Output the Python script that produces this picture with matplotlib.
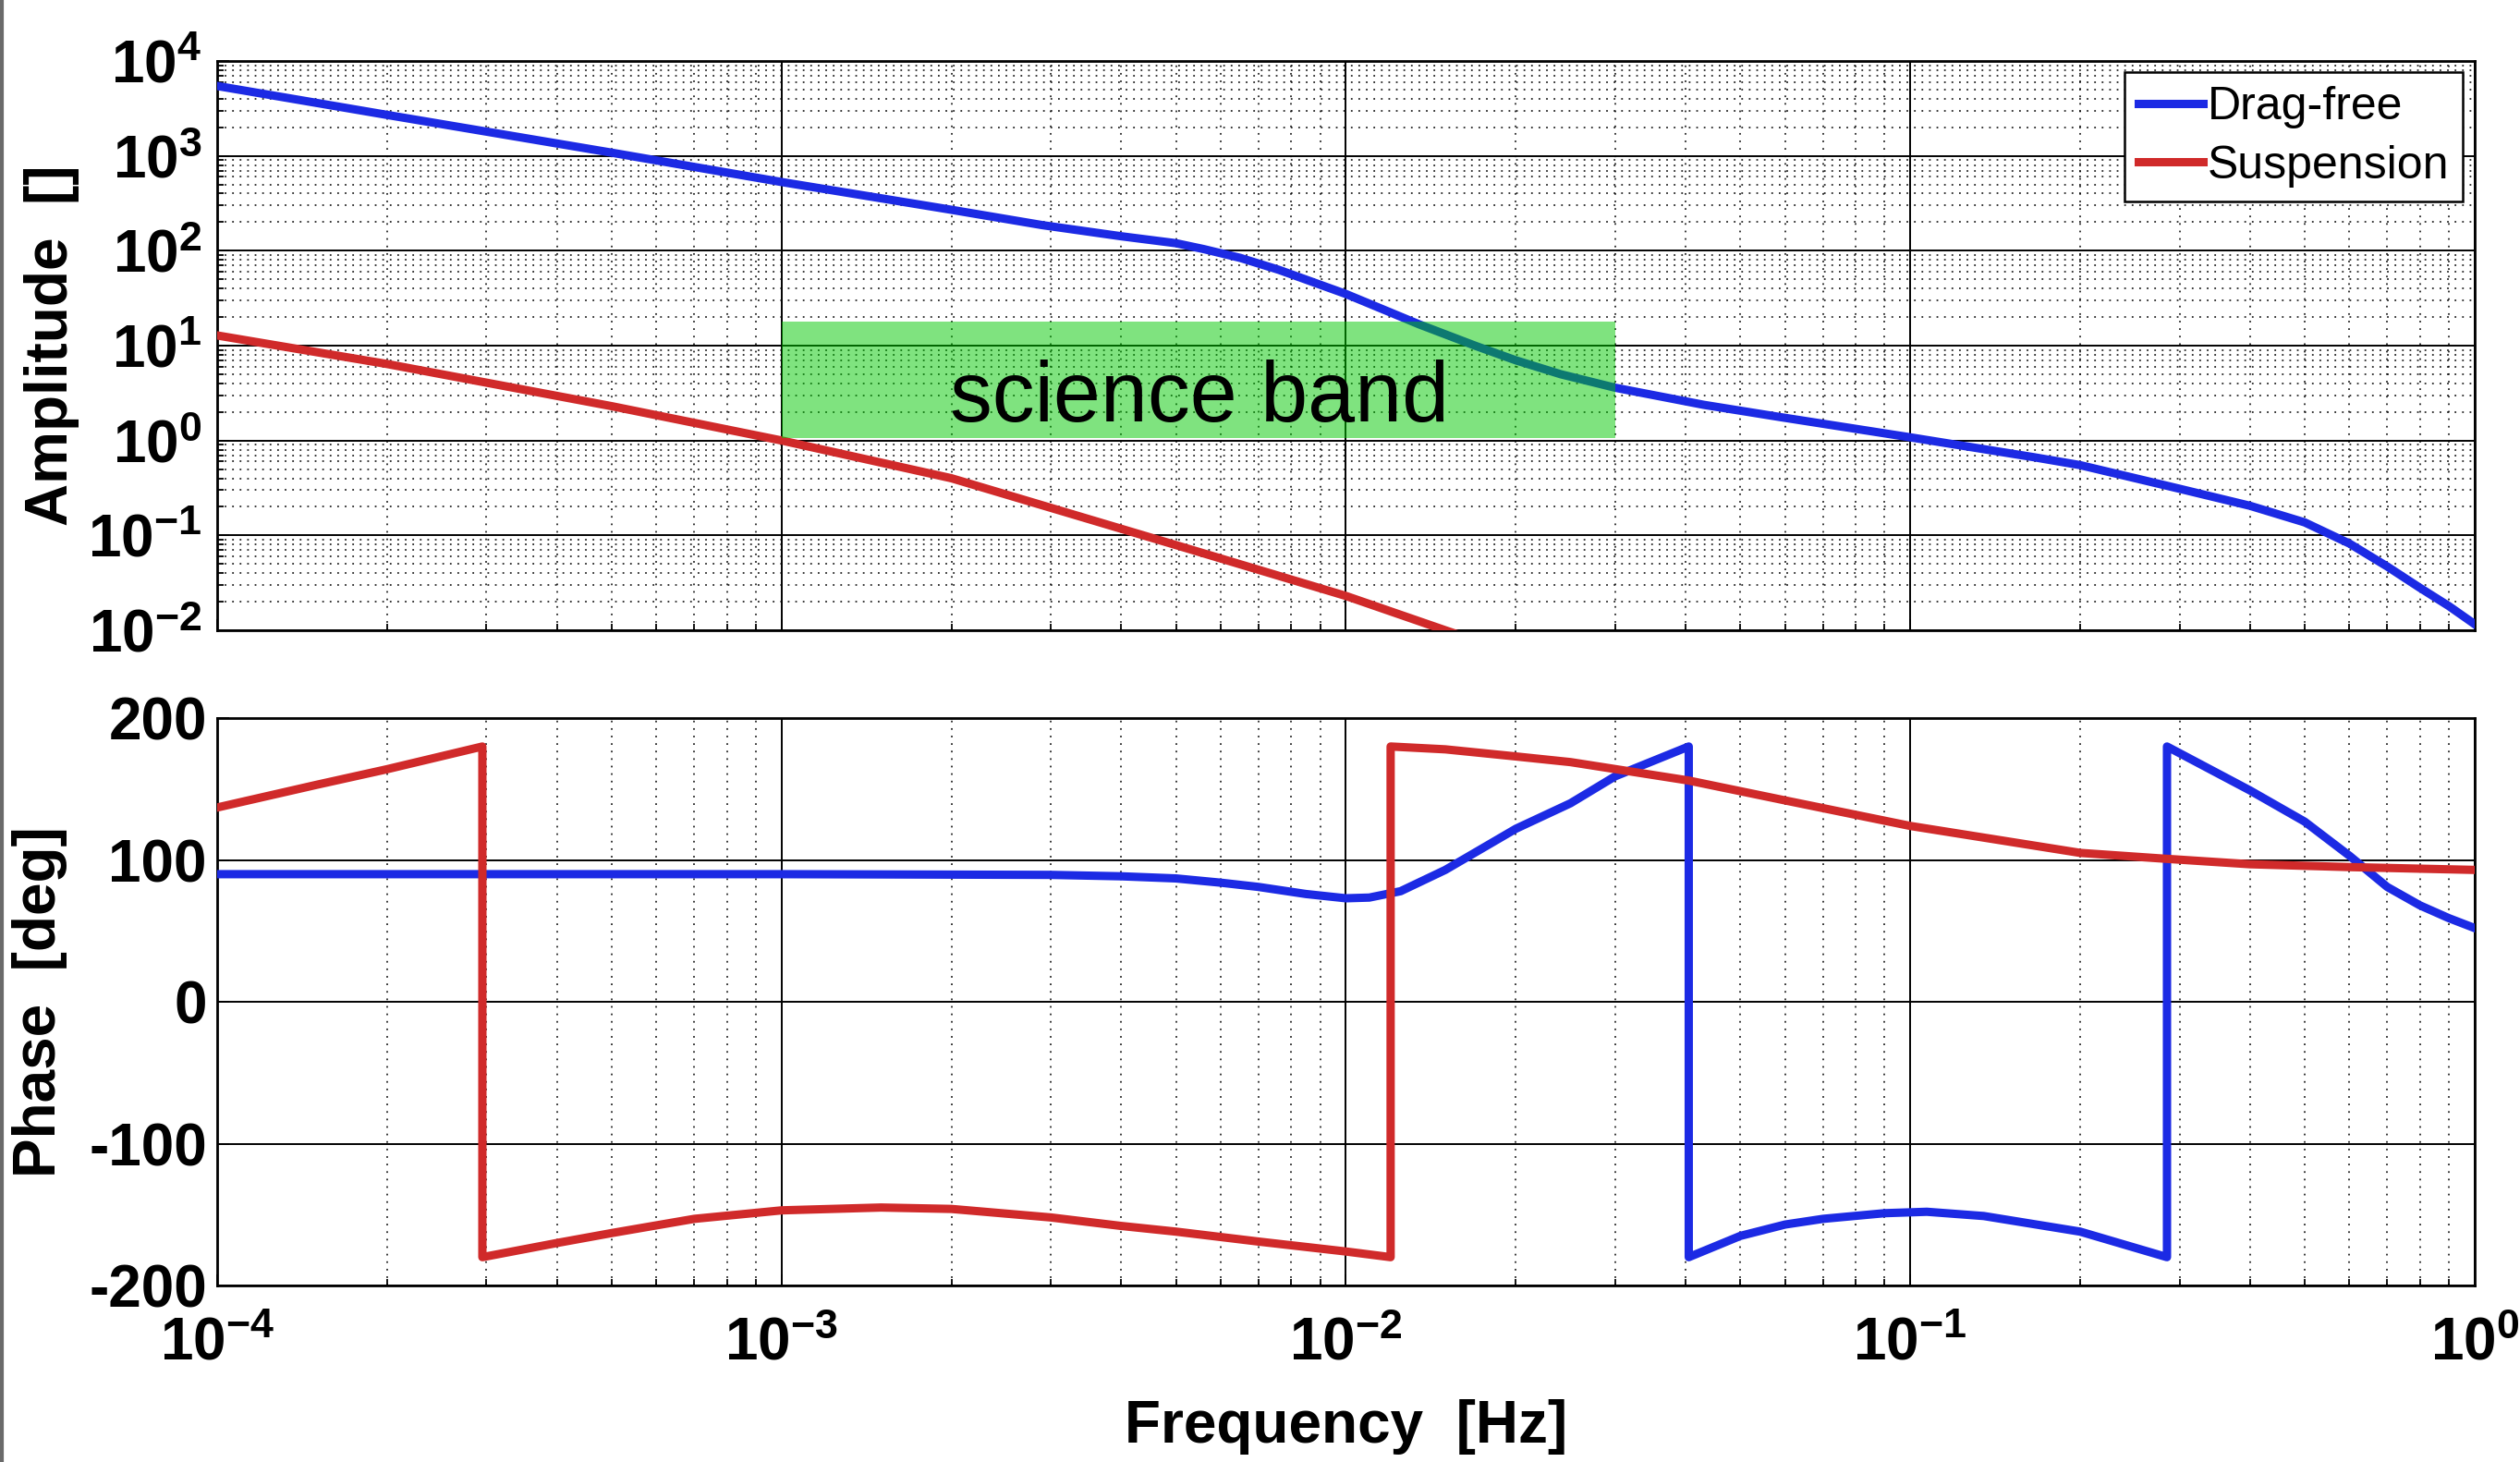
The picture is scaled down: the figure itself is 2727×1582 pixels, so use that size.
import matplotlib
matplotlib.use('Agg')
import matplotlib.pyplot as plt
from matplotlib.ticker import FixedLocator, LogLocator, NullLocator, NullFormatter
from matplotlib.lines import Line2D

plt.rcParams['font.family'] = ['Liberation Sans', 'DejaVu Sans']
plt.rcParams['mathtext.fontset'] = 'custom'
plt.rcParams['mathtext.rm'] = 'Liberation Sans:bold'
plt.rcParams['mathtext.it'] = 'Liberation Sans:bold'
plt.rcParams['mathtext.bf'] = 'Liberation Sans:bold'
plt.rcParams['mathtext.sf'] = 'Liberation Sans:bold'

# amplitude
f_amp_drag = [1e-4, 2e-4, 5e-4, 1e-3, 2e-3, 2.9e-3, 4e-3, 5e-3, 5.6e-3, 6.5e-3, 7.6e-3,
              1e-2, 1.35e-2, 1.7e-2, 2e-2, 2.4e-2, 3e-2, 4.3e-2, 5.9e-2, 0.1, 0.166,
              0.2, 0.3, 0.4, 0.5, 0.6, 0.7, 0.8, 0.9, 1.0]
amp_drag = [5450, 2700, 1080, 530, 270, 186, 142, 120, 104, 84, 63,
            35, 16.7, 9.9, 7.0, 5.0, 3.6, 2.38, 1.76, 1.08, 0.665,
            0.55, 0.31, 0.205, 0.137, 0.082, 0.047, 0.028, 0.018, 0.0116]

f_amp_susp = [1e-4, 2e-4, 5e-4, 1e-3, 2e-3, 5e-3, 1e-2, 1.5e-2, 2e-2]
amp_susp = [12.8, 6.4, 2.3, 1.0, 0.40, 0.079, 0.023, 0.010, 0.0056]

# phase (wraps kept as repeated frequencies)
f_ph_drag = [1e-4, 1e-3, 3e-3, 4e-3, 5e-3, 6e-3, 7e-3, 8.5e-3, 1e-2, 1.1e-2, 1.25e-2,
             1.5e-2, 2e-2, 2.5e-2, 3e-2, 4.05e-2, 4.05e-2, 5e-2, 6e-2, 7e-2, 9e-2,
             0.107, 0.135, 0.2, 0.285, 0.285, 0.4, 0.5, 0.6, 0.7, 0.8, 0.9, 1.0]
ph_drag = [90, 90, 89.5, 88.5, 87, 84, 81, 76, 73, 73.5, 78,
           93, 122, 140, 159, 180, -180, -165, -157, -153, -149,
           -148, -151, -162, -180, 180, 149, 127, 103, 81, 68, 59, 52]

f_ph_susp = [1e-4, 1.5e-4, 2e-4, 2.95e-4, 2.95e-4, 4e-4, 5e-4, 7e-4, 1e-3, 1.5e-3,
             2e-3, 3e-3, 4e-3, 5e-3, 7e-3, 1e-2, 1.2e-2, 1.2e-2, 1.5e-2, 2e-2,
             2.5e-2, 4.05e-2, 6e-2, 0.1, 0.2, 0.28, 0.4, 0.6, 1.0]
ph_susp = [137, 153, 164, 180, -180, -170, -163, -153, -147, -145,
           -146, -152, -158, -162, -169, -176, -180, 180, 178, 173,
           169, 156, 142, 124, 105, 101, 97, 95, 93]

xticks = [1e-4, 1e-3, 1e-2, 1e-1, 1e0]
xtick_labels = [r'$10^{-4}$', r'$10^{-3}$', r'$10^{-2}$', r'$10^{-1}$', r'$10^{0}$']
amp_ticks = [1e-2, 1e-1, 1e0, 1e1, 1e2, 1e3, 1e4]
amp_tick_labels = [r'$10^{-2}$', r'$10^{-1}$', r'$10^{0}$', r'$10^{1}$',
                   r'$10^{2}$', r'$10^{3}$', r'$10^{4}$']
ph_ticks = [-200, -100, 0, 100, 200]
ph_tick_labels = ['-200', '-100', '0', '100', '200']

band = (1e-3, 3e-2, 1.05, 18.0)

c_drag = '#1c2ae4'
c_susp = '#d02a2a'

fig = plt.figure(figsize=(27.27, 15.82), dpi=100)
ax1 = fig.add_axes([0.0862, 0.5689, 0.8958, 0.3894])
ax2 = fig.add_axes([0.0862, 0.1207, 0.8958, 0.3881])

# ----- amplitude -----
ax1.loglog(f_amp_drag, amp_drag, color=c_drag, lw=6.5, label='Drag-free', zorder=3)
ax1.loglog(f_amp_susp, amp_susp, color=c_susp, lw=6.5, label='Suspension', zorder=3)
ax1.fill_between([band[0], band[1]], band[2], band[3], color='#00c800', alpha=0.5,
                 lw=0, zorder=4)
ax1.text(5.5e-3, 1.6, 'science band', fontsize=66, ha='center', va='baseline',
         fontweight='light', zorder=5)
ax1.set_xlim(1e-4, 1)
ax1.set_ylim(1e-2, 1e4)
ax1.yaxis.set_major_locator(FixedLocator(amp_ticks))
ax1.set_yticklabels(amp_tick_labels)
ax1.yaxis.set_minor_locator(LogLocator(base=10, subs=range(2, 10), numticks=20))
ax1.yaxis.set_minor_formatter(NullFormatter())
ax1.set_ylabel('Amplitude  []', fontsize=46, fontweight='bold', va='center')
ax1.yaxis.set_label_coords(-0.0733, 0.5)
ax1.tick_params(axis='y', which='major', pad=12)
ax1.tick_params(axis='x', labelbottom=False)

# ----- phase -----
ax2.semilogx(f_ph_drag, ph_drag, color=c_drag, lw=6.5, zorder=3)
ax2.semilogx(f_ph_susp, ph_susp, color=c_susp, lw=6.5, zorder=3)
ax2.set_xlim(1e-4, 1)
ax2.set_ylim(-200, 200)
ax2.yaxis.set_major_locator(FixedLocator(ph_ticks))
ax2.set_yticklabels(ph_tick_labels, fontweight='bold')
ax2.yaxis.set_minor_locator(NullLocator())
ax2.set_ylabel('Phase  [deg]', fontsize=46, fontweight='bold', va='center')
ax2.yaxis.set_label_coords(-0.0786, 0.5)
ax2.set_xlabel('Frequency  [Hz]', fontsize=46, fontweight='bold')
ax2.xaxis.set_label_coords(0.5, -0.249)
ax2.xaxis.label.set_va('center')
ax2.set_xticks(xticks)
ax2.set_xticklabels(xtick_labels)
ax2.tick_params(axis='x', which='major', pad=24)
ax2.tick_params(axis='y', which='major', pad=8)

for ax in (ax1, ax2):
    ax.xaxis.set_minor_locator(LogLocator(base=10, subs=range(2, 10), numticks=20))
    ax.xaxis.set_minor_formatter(NullFormatter())
    ax.tick_params(which='both', direction='in', labelsize=46, width=1.3)
    ax.tick_params(which='major', length=9)
    ax.tick_params(which='minor', length=5)
    ax.grid(True, which='major', ls='-', color='k', lw=1.4, zorder=1)
    ax.grid(True, which='minor', ls=(0, (1, 3.5)), color='k', lw=1.3, alpha=0.85, zorder=1)
    for s in ax.spines.values():
        s.set_linewidth(2)
    ax.set_axisbelow(True)

leg = ax1.legend(loc='upper right', fontsize=36, frameon=True, fancybox=False,
                 borderpad=0.3, labelspacing=0.35, handlelength=1.4,
                 handletextpad=0.1, borderaxespad=0.25)
leg.get_frame().set_edgecolor('k')
leg.get_frame().set_linewidth(1.8)
leg.get_frame().set_alpha(1)

fig.add_artist(Line2D([0.0008, 0.0008], [0, 1], color='#6a6a6a', lw=3,
                      transform=fig.transFigure))

fig.savefig('out.png', dpi=100)
